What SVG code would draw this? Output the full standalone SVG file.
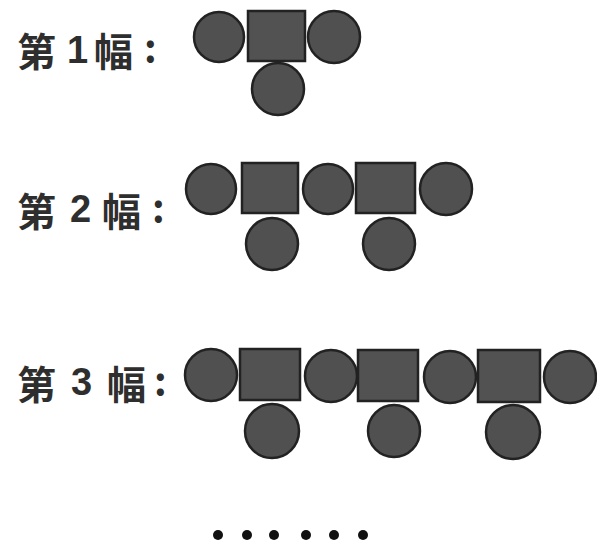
<svg xmlns="http://www.w3.org/2000/svg" width="597" height="550" viewBox="0 0 597 550">
<style>
.c{fill:#505050;stroke:#222;stroke-width:2.5}
.s{fill:#525252;stroke:#222;stroke-width:2.5}
.cj{font-family:"Noto Sans CJK SC","Noto Sans CJK JP",sans-serif;font-weight:bold;font-size:39px;fill:#2e2e2e}
.d{font-family:"Liberation Sans",Arial,sans-serif;font-weight:bold;font-size:38px;fill:#2e2e2e}
.dot{fill:#111}
</style>
<rect width="597" height="550" fill="#fff"/>
<g id="fig1">
<text class="cj" x="17" y="66">第</text><text class="d" x="67" y="63">1</text><text class="cj" x="94" y="66">幅</text><text class="cj" x="144" y="63">:</text>
<circle class="c" cx="219" cy="37" r="25"/>
<rect class="s" x="248" y="11" width="57" height="50"/>
<circle class="c" cx="334" cy="37" r="26"/>
<circle class="c" cx="278" cy="89" r="26"/>
</g>
<g id="fig2">
<text class="cj" x="17" y="226">第</text><text class="d" x="70" y="222">2</text><text class="cj" x="102" y="226">幅</text><text class="cj" x="152" y="223">:</text>
<circle class="c" cx="211" cy="189" r="25"/>
<rect class="s" x="242" y="163" width="56" height="50"/>
<circle class="c" cx="328" cy="189" r="25"/>
<rect class="s" x="356" y="163" width="59" height="50"/>
<circle class="c" cx="446" cy="189" r="26"/>
<circle class="c" cx="272" cy="244" r="26"/>
<circle class="c" cx="389" cy="244" r="26"/>
</g>
<g id="fig3">
<text class="cj" x="17" y="399">第</text><text class="d" x="71" y="395">3</text><text class="cj" x="107" y="399">幅</text><text class="cj" x="154" y="396">:</text>
<circle class="c" cx="211" cy="375" r="26"/>
<rect class="s" x="240" y="349" width="60" height="51"/>
<circle class="c" cx="331" cy="376" r="26"/>
<rect class="s" x="358" y="350" width="60" height="51"/>
<circle class="c" cx="450" cy="377" r="26"/>
<rect class="s" x="478" y="350" width="62" height="52"/>
<circle class="c" cx="570" cy="377" r="26"/>
<circle class="c" cx="272" cy="431" r="27"/>
<circle class="c" cx="394" cy="431" r="26"/>
<circle class="c" cx="513" cy="432" r="27"/>
</g>
<g id="ellipsis">
<circle class="dot" cx="218" cy="535" r="5"/>
<circle class="dot" cx="247" cy="535" r="5"/>
<circle class="dot" cx="274" cy="535" r="5"/>
<circle class="dot" cx="306" cy="535" r="5"/>
<circle class="dot" cx="334" cy="535" r="5"/>
<circle class="dot" cx="363" cy="535" r="5"/>
</g>
</svg>
